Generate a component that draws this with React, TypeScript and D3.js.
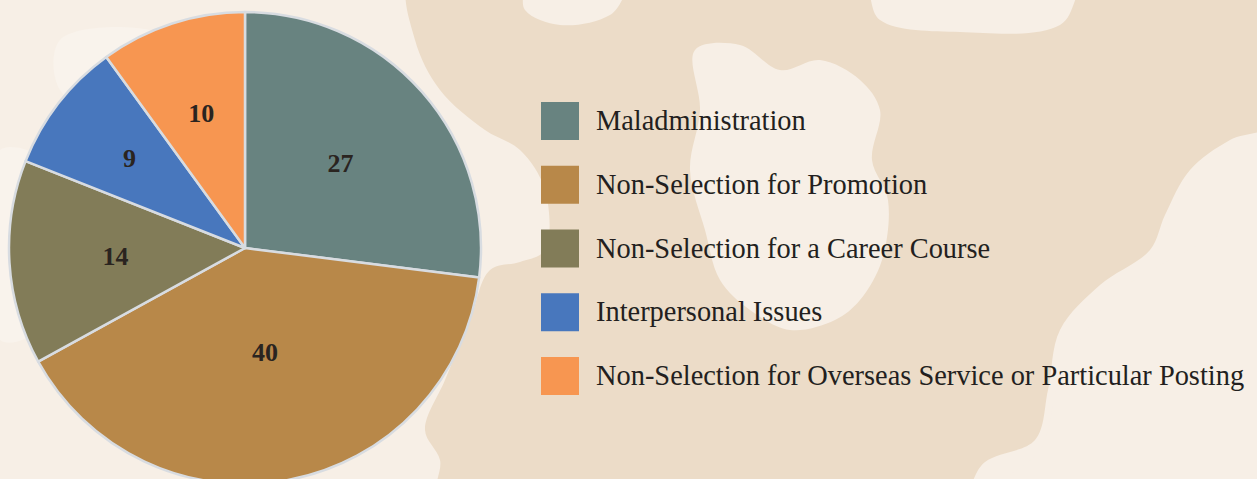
import React from "react";
import * as d3 from "d3";

const categories = [
  "Maladministration",
  "Non-Selection for Promotion",
  "Non-Selection for a Career Course",
  "Interpersonal Issues",
  "Non-Selection for Overseas Service or Particular Posting",
];
const values = [27, 40, 14, 9, 10];
const colors = ["#688380", "#b88849", "#827c58", "#4877bd", "#f79651"];
// label radius as fraction of outer radius (style)
const labelFrac = [0.54, 0.45, 0.55, 0.62, 0.6];

const W = 1257;
const H = 479;
const TAN = "#ecdcc8";
const LIGHT = "#f7efe6";
const LIGHTER = "#f9f3ec";

const blob = (pts: [number, number][]) =>
  d3.line().curve(d3.curveCatmullRomClosed.alpha(0.5))(pts) as string;

export default function App() {
  const cx = 245;
  const cy = 248;
  const r = 236;
  const pie = d3.pie<number>().sort(null).value((d) => d)(values);
  const arc = d3.arc<d3.PieArcDatum<number>>().innerRadius(0).outerRadius(r);
  const legendY = d3
    .scalePoint<string>()
    .domain(categories)
    .range([121, 376]);

  const tanBlobs: [number, number][][] = [
    [
      [410, -20], [520, -20], [525, 10], [560, 25], [610, 15], [640, -20],
      [860, -20], [880, 20], [960, 32], [1060, 25], [1090, -20], [1280, -20],
      [1280, 120], [1230, 140], [1190, 170], [1165, 215], [1150, 250],
      [1100, 285], [1060, 330], [1048, 390], [1035, 440], [985, 462], [955, 500],
      [440, 500], [440, 460], [425, 430], [445, 380], [470, 320], [490, 270],
      [520, 262], [545, 250], [545, 190], [520, 150], [485, 130], [440, 90],
      [415, 40],
    ],
  ];
  const lightBlobs: [number, number][][] = [
    [
      [695, 50], [740, 45], [780, 70], [820, 60], [860, 80], [880, 110],
      [872, 160], [888, 200], [882, 260], [860, 300], [835, 320], [790, 330],
      [750, 310], [720, 280], [705, 230], [690, 170], [700, 110],
    ],
  ];

  return (
    <svg
      width={W}
      height={H}
      style={{ position: "absolute", left: 0, top: 0, display: "block" }}
      fontFamily="'Liberation Serif', 'Times New Roman', serif"
    >
      <rect width={W} height={H} fill={LIGHT} />
      <path d={blob([[60, 40], [150, 30], [200, 60], [180, 110], [120, 120], [60, 90]])} fill={LIGHTER} />
      <path d={blob([[0, 150], [60, 170], [80, 260], [40, 330], [0, 340]])} fill={LIGHTER} />
      {tanBlobs.map((b, i) => (
        <path key={"t" + i} d={blob(b)} fill={TAN} />
      ))}
      {lightBlobs.map((b, i) => (
        <path key={"l" + i} d={blob(b)} fill={LIGHT} />
      ))}
      <path
        d={blob([[1170, 260], [1257, 230], [1290, 300], [1290, 500], [980, 500], [1040, 450], [1060, 380], [1110, 300]])}
        fill={LIGHT}
      />
      <g transform={`translate(${cx},${cy})`}>
        {pie.map((p, i) => (
          <path
            key={i}
            d={arc(p) as string}
            fill={colors[i]}
            stroke="#d8dce1"
            strokeWidth={2.5}
            strokeLinejoin="round"
          />
        ))}
        {pie.map((p, i) => {
          const lr = r * labelFrac[i];
          const la = d3.arc<d3.PieArcDatum<number>>().innerRadius(lr).outerRadius(lr);
          const [x, y] = la.centroid(p);
          return (
            <text
              key={"lab" + i}
              x={x}
              y={y}
              dy="0.33em"
              textAnchor="middle"
              fontSize={26}
              fontWeight="bold"
              fill="#2a2420"
            >
              {values[i]}
            </text>
          );
        })}
      </g>
      {categories.map((c, i) => {
        const y = legendY(c) as number;
        return (
          <g key={"lg" + i}>
            <rect x={541} y={y - 19} width={38} height={38} fill={colors[i]} />
            <text x={596} y={y + 9} fontSize={28.4} fill="#231f20">
              {c}
            </text>
          </g>
        );
      })}
    </svg>
  );
}
